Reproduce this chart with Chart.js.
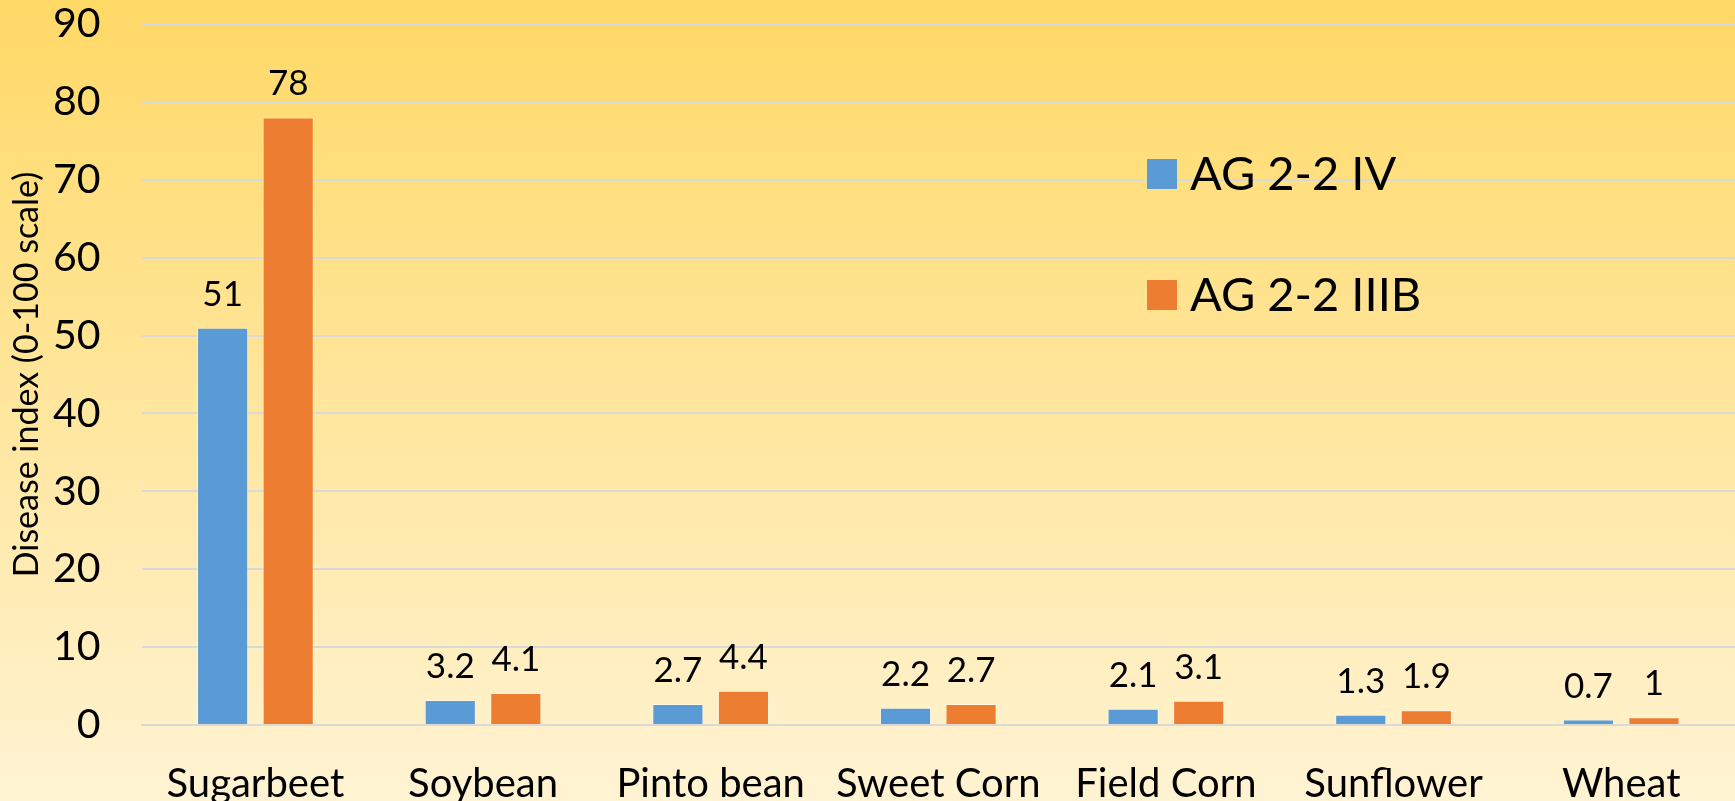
<!DOCTYPE html>
<html>
<head>
<meta charset="utf-8">
<script src="https://cdn.jsdelivr.net/npm/chart.js@4.4.1/dist/chart.umd.min.js"></script>
<style>
    html, body { margin: 0; padding: 0; overflow: hidden; background: #fff3d2; }
    canvas { display: block; }
</style>
</head>
<body>
<canvas id="grafikPenyakit" width="1735" height="801"></canvas>
<script>
const tanaman = ['Sugarbeet', 'Soybean', 'Pinto bean', 'Sweet Corn', 'Field Corn', 'Sunflower', 'Wheat'];
const nilaiIV = [51, 3.2, 2.7, 2.2, 2.1, 1.3, 0.7];
const nilaiIIIB = [78, 4.1, 4.4, 2.7, 3.1, 1.9, 1];
const labelSeri = ['AG 2-2 IV', 'AG 2-2 IIIB'];
const warnaSeri = ['#5b9bd5', '#ed7d31'];

const FONT = 'Lato, "Open Sans", sans-serif';

// latar belakang gradasi kuning
const latarGradasi = {
    id: 'latarGradasi',
    beforeDraw: function (chart) {
        let ctx = chart.ctx;
        let g = ctx.createLinearGradient(0, 0, 0, chart.height);
        g.addColorStop(0, '#ffd966');
        g.addColorStop(1, '#fff3d3');
        ctx.save();
        ctx.fillStyle = g;
        ctx.fillRect(0, 0, chart.width, chart.height);
        ctx.restore();
    }
};

// angka di atas tiap batang
const labelNilai = {
    id: 'labelNilai',
    afterDatasetsDraw: function (chart) {
        let ctx = chart.ctx;
        ctx.save();
        ctx.font = '35px ' + FONT;
        ctx.fillStyle = '#000';
        ctx.textAlign = 'center';
        ctx.textBaseline = 'alphabetic';
        chart.data.datasets.forEach(function (ds, i) {
            chart.getDatasetMeta(i).data.forEach(function (bar, j) {
                ctx.fillText(String(ds.data[j]), bar.x, bar.y - 22);
            });
        });
        ctx.restore();
    }
};

// legenda vertikal di dalam area grafik
const legendaKanan = {
    id: 'legendaKanan',
    afterDraw: function (chart) {
        let ctx = chart.ctx;
        let x = 1147, y = 159, kotak = 30, jarak = 121;
        ctx.save();
        ctx.font = '47px ' + FONT;
        ctx.textBaseline = 'middle';
        ctx.textAlign = 'left';
        chart.data.datasets.forEach(function (ds, i) {
            let yy = y + i * jarak;
            ctx.fillStyle = ds.backgroundColor;
            ctx.fillRect(x, yy, kotak, kotak);
            ctx.fillStyle = '#000';
            ctx.fillText(ds.label, x + 43, yy + kotak / 2 + 1);
        });
        ctx.restore();
    }
};

new Chart(document.getElementById('grafikPenyakit'), {
    type: 'bar',
    data: {
        labels: tanaman,
        datasets: [{
            label: labelSeri[0],
            data: nilaiIV,
            backgroundColor: warnaSeri[0],
            borderColor: 'rgba(255, 255, 255, 0.45)',
            borderWidth: 1,
            categoryPercentage: 0.576,
            barPercentage: 0.78
        }, {
            label: labelSeri[1],
            data: nilaiIIIB,
            backgroundColor: warnaSeri[1],
            borderColor: 'rgba(255, 255, 255, 0.45)',
            borderWidth: 1,
            categoryPercentage: 0.576,
            barPercentage: 0.78
        }]
    },
    options: {
        responsive: false,
        animation: false,
        layout: { padding: { top: 24, right: 0, left: 0, bottom: 0 } },
        plugins: {
            legend: { display: false },
            tooltip: { enabled: false }
        },
        scales: {
            x: {
                grid: { display: false, drawTicks: false },
                border: { color: '#d9d9d9', width: 2 },
                ticks: {
                    color: '#000',
                    font: { family: FONT, size: 40 },
                    padding: 35,
                    maxRotation: 0,
                    autoSkip: false
                },
                afterFit: function (scale) {
                    scale.height = 76;
                    scale.paddingLeft = 0;
                    scale.paddingRight = 0;
                }
            },
            y: {
                min: 0,
                max: 90,
                border: { display: false },
                grid: { color: '#d9d9d9', lineWidth: 2, drawTicks: false },
                ticks: {
                    stepSize: 10,
                    color: '#000',
                    font: { family: FONT, size: 41 },
                    padding: 41
                },
                title: {
                    display: true,
                    text: 'Disease index (0-100 scale)',
                    color: '#000',
                    font: { family: FONT, size: 34 },
                    padding: { top: 7, bottom: 0 }
                },
                afterFit: function (scale) {
                    scale.width = 141.6;
                    scale.paddingTop = 0;
                    scale.paddingBottom = 0;
                }
            }
        }
    },
    plugins: [latarGradasi, labelNilai, legendaKanan]
});
</script>
</body>
</html>
